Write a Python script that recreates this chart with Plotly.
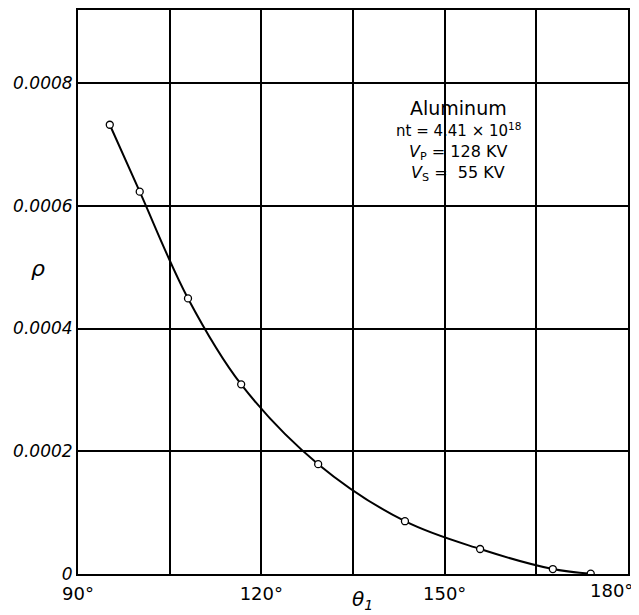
import plotly.graph_objects as go

theta = [95.2, 100.1, 108.0, 116.7, 129.3, 143.5, 155.8, 167.7, 173.9]
rho = [0.000732, 0.000623, 0.000449, 0.000309, 0.000179, 0.000086, 0.0000407, 0.0000081, 0.0000005]

x_tick_vals = [90, 105, 120, 135, 150, 165, 180]
x_tick_text = ["90°", "", "120°", "", "150°", "", ""]
x_last_label = "180°"
y_tick_vals = [0, 0.0002, 0.0004, 0.0006, 0.0008]
y_tick_text = ["0", "0.0002", "0.0004", "0.0006", "0.0008"]

FONT = "DejaVu Sans"

# page offset (browser body margin 8px) compensation
OFF = 8
W, H = 639 - OFF, 615 - OFF
PL, PR, PT, PB = 78, 628, 10, 574  # plot area in page pixels
ml, mt = PL - OFF, PT - OFF
mr = (OFF + W) - PR
mb = (OFF + H) - PB


def px(xp):
    return (xp - PL) / (PR - PL)


def py(yp):
    return (PB - yp) / (PB - PT)


fig = go.Figure()
fig.add_trace(go.Scatter(
    x=theta, y=rho, mode="lines",
    line=dict(color="black", width=2, shape="spline", smoothing=1.0),
    hoverinfo="skip", showlegend=False,
))
fig.add_trace(go.Scatter(
    x=theta, y=rho, mode="markers",
    marker=dict(symbol="circle", size=7, color="white", line=dict(color="black", width=1.3)),
    showlegend=False,
))

ann = [
    (38, 268, "ρ", 22, "italic"),
    (362, 600, "θ<sub>1</sub>", 20, "italic"),
    (458, 108, "Aluminum", 19, "normal"),
    (458, 130, "nt = 4.41 × 10<sup>18</sup>", 15, "normal"),
    (458, 152, "<i>V</i><sub>P</sub> = 128 KV", 16, "normal"),
    (458, 173, "<i>V</i><sub>S</sub> =  55 KV", 16, "normal"),
    (611, 590, x_last_label, 18, "normal"),
]

fig.update_layout(
    width=W, height=H,
    margin=dict(l=ml, r=mr, t=mt, b=mb, autoexpand=False),
    paper_bgcolor="white", plot_bgcolor="white",
    font=dict(family=FONT, color="black"),
    xaxis=dict(
        range=[90, 180], tickvals=x_tick_vals, ticktext=x_tick_text,
        showgrid=True, gridcolor="black", gridwidth=1.5,
        showline=True, linecolor="black", linewidth=2, mirror=True,
        ticks="", zeroline=False, ticklabeloverflow="allow", ticklabelstandoff=2,
        tickfont=dict(size=18, family=FONT, color="black"),
    ),
    yaxis=dict(
        range=[0, 0.000919], tickvals=y_tick_vals, ticktext=y_tick_text,
        showgrid=True, gridcolor="black", gridwidth=1.5,
        showline=True, linecolor="black", linewidth=2, mirror=True,
        ticks="", zeroline=False, ticklabeloverflow="allow",
        tickfont=dict(size=17, family=FONT, color="black", style="italic"),
    ),
)

for x0, y0, txt, sz, st in ann:
    fig.add_annotation(
        x=px(x0), y=py(y0), xref="paper", yref="paper", text=txt, showarrow=False,
        font=dict(size=sz, family=FONT, style=st, color="black"),
        xanchor="center", yanchor="middle",
    )

fig.write_html("out.html")
